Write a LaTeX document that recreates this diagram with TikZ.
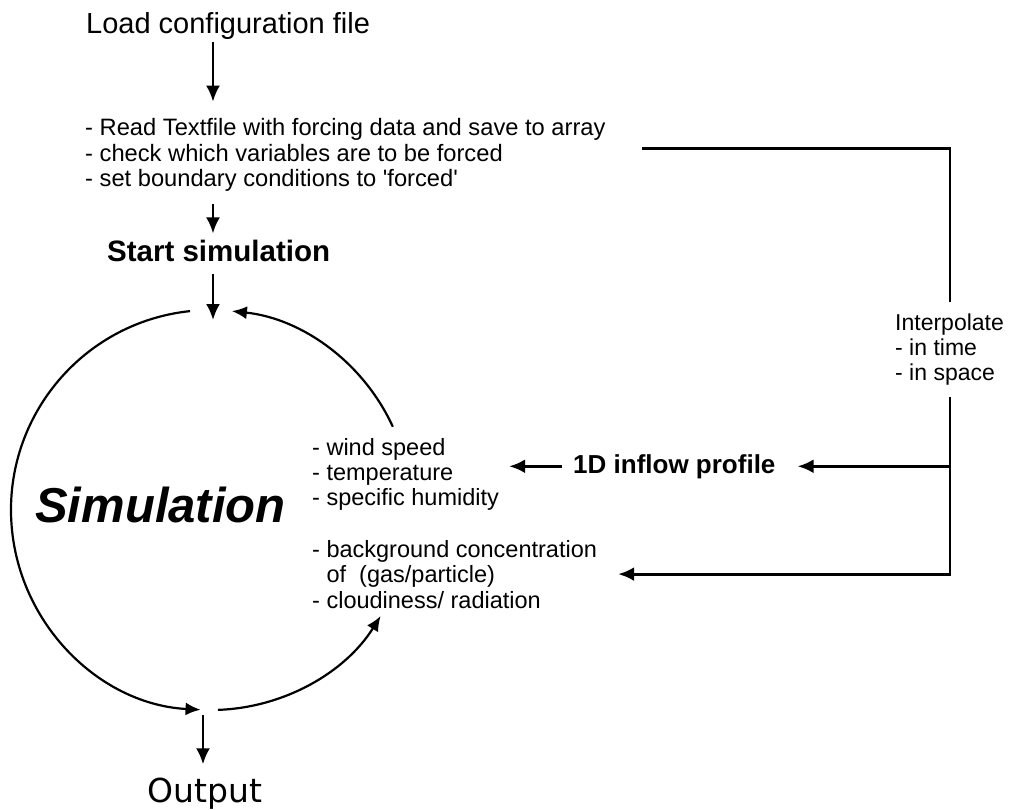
\documentclass[tikz,border=0pt]{standalone}
\usepackage{fontspec}
\setmainfont{Liberation Sans}
\newfontfamily\outfont{DejaVu Sans}
\usetikzlibrary{arrows.meta,calc}
\begin{document}
\begin{tikzpicture}[x=1pt,y=1pt,
  txt/.style={inner sep=0pt, anchor=base west, align=left, font=\fontsize{23.7}{25.3}\selectfont},
  arr/.style={line width=2.5pt, -{Latex[length=16pt,width=14pt]}},
  bar/.style={line width=2.8pt},
  arcarr/.style={line width=2.2pt, -{Latex[length=15pt,width=13pt]}}]
\fill[white] (0,0) rectangle (1009,-810);
\useasboundingbox (0,0) rectangle (1009,-810);

\coordinate (spine) at (213,0);
\coordinate (rail) at (950,0);
\coordinate (c) at (211,-510);
\coordinate (ctop) at ($(c)+(0,190)$);
\coordinate (cbot) at ($(c)+(-8,-205)$);

% multi-line nodes are placed by the baseline of their last line
\node[txt, font=\fontsize{29}{32}\selectfont] (load) at (86,-34) {Load configuration file};
\node[txt] (read) at (85,-186.6) {- Read Textfile with forcing data and save to array\\- check which variables are to be forced\\- set boundary conditions to \textquotesingle forced\textquotesingle};
\node[txt, font=\bfseries\fontsize{29.5}{32}\selectfont] (start) at (107,-262) {Start simulation};
\node[txt, font=\bfseries\itshape\fontsize{49}{52}\selectfont] (sim) at (35,-522) {Simulation};
\node[txt, font=\fontsize{23.5}{25}\selectfont] (vars1) at (312,-505) {- wind speed\\- temperature\\- specific humidity};
\node[txt, font=\fontsize{23.5}{25.5}\selectfont] (vars2) at (312,-608) {- background concentration\\\phantom{- }of\ \ (gas/particle)\\- cloudiness/ radiation};
\node[txt, font=\bfseries\fontsize{26}{28}\selectfont] (inflow) at (573,-473) {1D inflow profile};
\node[txt, font=\fontsize{23}{25}\selectfont] (interp) at (895,-380) {Interpolate\\- in time\\- in space};
\node[txt, font=\outfont\fontsize{33}{36}\selectfont, anchor=base] (out) at (205,-802) {Output};

% main flow
\draw[arr, shorten <=2pt, shorten >=17pt] (load.south -| spine) -- (read.north -| spine);
\draw[arr, shorten <=12pt, shorten >=7pt] (read.south -| spine) -- (start.north -| spine);
\draw[arr, shorten <=12pt] (start.south -| spine) -- (ctop -| spine);
\draw[arr, shorten >=13pt] (cbot) -- (cbot |- out.north);

% simulation loop
\draw[arcarr] ($(c)+(24.6:200)$) arc[start angle=24.6, end angle=84, radius=200];
\draw[arcarr] ($(c)+(96:200)$) arc[start angle=96, end angle=267, radius=200];
\draw[arcarr] ($(c)+(272:200)$) arc[start angle=272, end angle=328, radius=200];

% forcing data path
\draw[bar] ($(read.east)+(36.5,7)$) -| ($(interp.north -| rail)+(0,11)$);
\draw[arr, line width=2.8pt] ($(interp.south -| rail)+(0,-12)$) -- (rail |- vars2.east) -- ($(vars2.east)+(21,0)$);
\draw[arr, line width=2.8pt] (rail |- inflow.east) -- ($(inflow.east)+(22,0)$);
\draw[arr, line width=2.8pt] ($(inflow.west)+(-11,0)$) -- ($(inflow.west -| vars1.east)+(10,0)$);
\end{tikzpicture}
\end{document}
